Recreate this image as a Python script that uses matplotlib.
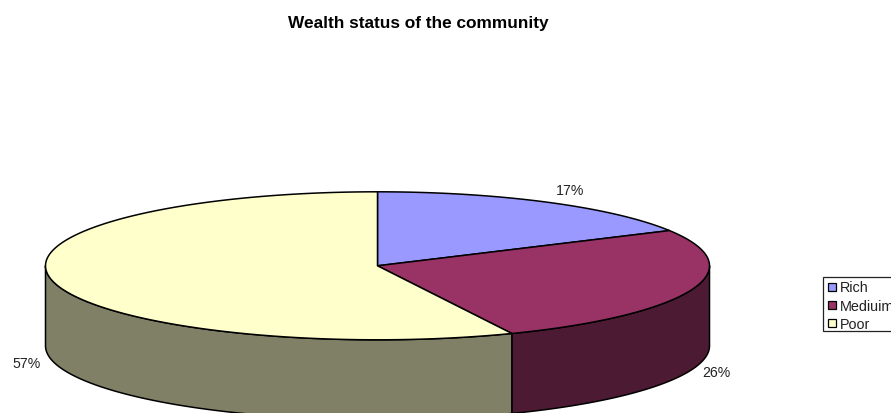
import numpy as np
import matplotlib
matplotlib.use("Agg")
import matplotlib.pyplot as plt
from matplotlib.patches import Polygon, Rectangle

categories = ["Rich", "Mediuim", "Poor"]
shares = [17, 26, 57]
top_colors = ["#9999FF", "#993366", "#FFFFCC"]
side_colors = ["#4D4D80", "#4D1A33", "#808066"]
label_xy = [(570, 191.5), (716.5, 373.5), (26.5, 364.5)]

plt.rcParams["font.family"] = ["Liberation Sans", "DejaVu Sans"]

W, H = 891, 414
CX, CY, RX, RY, DEPTH = 377.5, 266.8, 332.0, 74.0, 80.0
FORESHORTEN = 1.4  # degrees of lean in rim angles, strongest at the near side

fig = plt.figure(figsize=(W / 100, H / 100), dpi=100, facecolor="white")
ax = fig.add_axes([0, 0, 1, 1])
ax.set_xlim(0, W)
ax.set_ylim(H, 0)
ax.axis("off")


def lean(a):
    """Projected rim angle for a clockwise angle measured from the top of the disc."""
    return a + FORESHORTEN * np.sin(np.radians(a) / 2) ** 2


def rim(a0, a1, n=200):
    t = np.radians(np.linspace(a0, a1, n))
    return np.column_stack([CX + RX * np.sin(t), CY - RY * np.cos(t)])


edges = lean(np.cumsum([0] + shares) * 3.6)
edges[-1] = 360.0

# Side wall: only the part of the rim facing the viewer (90 to 270 degrees)
for a0, a1, side in zip(edges[:-1], edges[1:], side_colors):
    lo, hi = max(a0, 90), min(a1, 270)
    if lo >= hi:
        continue
    upper = rim(lo, hi)
    lower = upper[::-1] + [0, DEPTH]
    ax.add_patch(Polygon(np.vstack([upper, lower]), closed=True, facecolor=side,
                         edgecolor="black", linewidth=1.1, joinstyle="round", zorder=2))

# Top face wedges
for a0, a1, top in zip(edges[:-1], edges[1:], top_colors):
    pts = np.vstack([[CX, CY], rim(a0, a1)])
    ax.add_patch(Polygon(pts, closed=True, facecolor=top, edgecolor="black",
                         linewidth=1.1, joinstyle="round", zorder=3))

# Percentage labels
for share, (x, y) in zip(shares, label_xy):
    ax.text(x, y, f"{share}%", fontsize=10.2, ha="center", va="center", color="#222222")

ax.text(418.5, 23.2, "Wealth status of the community", fontsize=12.4, fontweight="bold",
        ha="center", va="center", color="black")

# Legend box running off the right edge
ax.add_patch(Rectangle((823, 278.3), 80, 54, facecolor="white", edgecolor="#222222",
                       linewidth=0.9, zorder=4))
for i, (name, top) in enumerate(zip(categories, top_colors)):
    y = 287.7 + i * 18.3
    ax.add_patch(Rectangle((828.3, y - 4), 8, 8, facecolor=top, edgecolor="black",
                           linewidth=0.9, zorder=5))
    ax.text(840.3, y + 0.6, name, fontsize=10.4, ha="left", va="center", color="#222222", zorder=5)

fig.savefig("out.png", dpi=100)
